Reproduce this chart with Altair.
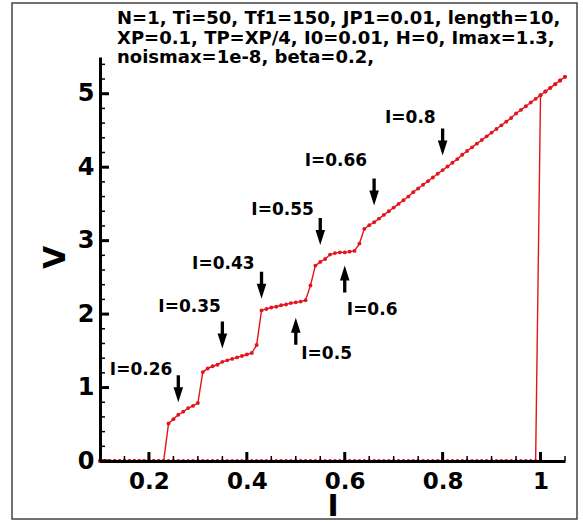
import altair as alt
import pandas as pd

# ---- sweep data: current I and voltage V ----
# forward sweep, I = 0.10 ... 1.05 in steps of 0.01
fwd_I = [round(0.10 + 0.01 * k, 2) for k in range(96)]
fwd_V = [
    0, 0, 0, 0, 0, 0, 0, 0, 0, 0, 0, 0, 0, 0,                    # 0.10-0.23
    0.51, 0.57, 0.63, 0.67, 0.72, 0.75, 0.79,                    # 0.24-0.30
    1.21, 1.26, 1.29, 1.31, 1.35, 1.37, 1.39, 1.41, 1.43, 1.45,  # 0.31-0.40
    1.47, 1.58,                                                  # 0.41-0.42
    2.05, 2.07, 2.09, 2.10, 2.12, 2.13, 2.15, 2.16, 2.17, 2.19,  # 0.43-0.52
    2.39, 2.66, 2.71, 2.75, 2.81, 2.83, 2.84, 2.84, 2.85, 2.86,  # 0.53-0.62
    2.96, 3.16, 3.21, 3.25, 3.30,                                # 0.63-0.67
    3.35, 3.40, 3.45, 3.50, 3.55, 3.60, 3.66, 3.71, 3.76, 3.81,  # 0.68-0.77
    3.86, 3.91, 3.96, 4.01, 4.06, 4.11, 4.17, 4.22, 4.27, 4.32,  # 0.78-0.87
    4.37, 4.42, 4.47, 4.52, 4.57, 4.62, 4.67, 4.73, 4.78, 4.83,  # 0.88-0.97
    4.88, 4.93, 4.98, 5.03, 5.08, 5.13, 5.18, 5.23,              # 0.98-1.05
]
# backward sweep, I = 1.05 ... 0.10
bwd_I = [round(1.05 - 0.01 * k, 2) for k in range(96)]
bwd_V = [5.23, 5.18, 5.13, 5.08, 5.03, 4.98] + [0.0] * 90

# ---- annotations ----
ann_text = ["I=0.26", "I=0.35", "I=0.43", "I=0.5", "I=0.55", "I=0.6", "I=0.66", "I=0.8"]
ann_I = [0.26, 0.35, 0.43, 0.50, 0.55, 0.60, 0.66, 0.80]
ann_tip_V = [0.80, 1.53, 2.21, 1.95, 2.94, 2.66, 3.48, 4.16]
ann_dir = ["down", "down", "down", "up", "down", "up", "down", "down"]
lab_I = [0.184, 0.283, 0.352, 0.563, 0.473, 0.656, 0.582, 0.734]
lab_V = [1.17, 2.03, 2.62, 1.39, 3.35, 1.99, 4.01, 4.60]

# ---- axis ticks ----
x_major = [0.2, 0.4, 0.6, 0.8, 1.0]
x_minor = [0.15, 0.25, 0.3, 0.35, 0.45, 0.5, 0.55, 0.65, 0.7, 0.75, 0.85, 0.9, 0.95, 1.05]
y_major = [0, 1, 2, 3, 4, 5]
y_minor = [0.2, 0.4, 0.6, 0.8, 1.2, 1.4, 1.6, 1.8, 2.2, 2.4, 2.6, 2.8,
           3.2, 3.4, 3.6, 3.8, 4.2, 4.4, 4.6, 4.8, 5.2, 5.4]

caption = [
    "N=1, Ti=50, Tf1=150, JP1=0.01, length=10,",
    "XP=0.1, TP=XP/4, I0=0.01, H=0, Imax=1.3,",
    "noismax=1e-8, beta=0.2,",
]

W, H = 465, 404
FONT = "DejaVu Sans"
RED = "#e3141c"

sweep = pd.DataFrame({
    "I": fwd_I + bwd_I,
    "V": fwd_V + bwd_V,
    "step": list(range(len(fwd_I) + len(bwd_I))),
})
ann = pd.DataFrame({"text": ann_text, "I": ann_I, "tip": ann_tip_V, "dir": ann_dir,
                    "lx": lab_I, "ly": lab_V})

xs = alt.Scale(domain=[0.1, 1.05], nice=False, zero=False)
ys = alt.Scale(domain=[0, 5.5], nice=False, zero=False)

x_axis = alt.Axis(values=x_major, format="~g", ticks=False, tickSize=0, grid=False,
                  domainColor="black", domainWidth=3, labelFont=FONT, labelFontSize=23,
                  labelFontWeight="bold", labelColor="black", labelPadding=9,
                  title="I", titleFont=FONT, titleFontSize=30, titleFontWeight="bold",
                  titleColor="black", titleBaseline="alphabetic", titleY=54, zindex=1)
y_axis = alt.Axis(values=y_major, format="d", ticks=False, tickSize=0, grid=False,
                  domainColor="black", domainWidth=3, labelFont=FONT, labelFontSize=24,
                  labelFontWeight="bold", labelColor="black", labelPadding=6,
                  title="V", titleFont=FONT, titleFontSize=30, titleFontWeight="bold",
                  titleColor="black", titleBaseline="alphabetic", titleX=-36, titleY=200,
                  zindex=1)

base = alt.Chart(sweep)
line = base.mark_line(color=RED, strokeWidth=1.4).encode(
    x=alt.X("I:Q", scale=xs, axis=x_axis),
    y=alt.Y("V:Q", scale=ys, axis=y_axis),
    order="step:Q",
)
dots = base.mark_circle(color=RED, size=15, opacity=1).encode(
    x=alt.X("I:Q", scale=xs), y=alt.Y("V:Q", scale=ys)
)

# inward tick marks
def xticks(vals, length, width):
    return alt.Chart(pd.DataFrame({"t": vals})).mark_rule(color="black", strokeWidth=width).encode(
        x=alt.X("t:Q", scale=xs), y=alt.value(H), y2=alt.value(H - length))

def yticks(vals, length, width):
    return alt.Chart(pd.DataFrame({"t": vals})).mark_rule(color="black", strokeWidth=width).encode(
        y=alt.Y("t:Q", scale=ys), x=alt.value(0), x2=alt.value(length))

# arrows: shaft + head drawn as one symbol whose tip sits on the data point
DOWN = "M-0.55,-9L0.55,-9L0.55,-5L1.6,-5L0,0L-1.6,-5L-0.55,-5Z"
UP = "M-0.55,9L0.55,9L0.55,5L1.6,5L0,0L-1.6,5L-0.55,5Z"
arrows = alt.Chart(ann).mark_point(filled=True, color="black", opacity=1, size=36, strokeWidth=0).encode(
    x=alt.X("I:Q", scale=xs), y=alt.Y("tip:Q", scale=ys),
    shape=alt.Shape("dir:N", scale=alt.Scale(domain=["down", "up"], range=[DOWN, UP]), legend=None),
)
labels = alt.Chart(ann).mark_text(font=FONT, fontSize=17, fontWeight="bold", color="black",
                                  align="center", baseline="alphabetic").encode(
    x=alt.X("lx:Q", scale=xs), y=alt.Y("ly:Q", scale=ys), text="text:N")

one = pd.DataFrame({"k": [0]})
title = alt.Chart(one).mark_text(font=FONT, fontSize=18, fontWeight="bold", color="black",
                                 align="left", baseline="alphabetic", lineHeight=19.5).encode(
    x=alt.value(17), y=alt.value(-33), text=alt.value(caption))
frame = alt.Chart(one).mark_rect(filled=False, stroke="#444444", strokeWidth=1.5).encode(
    x=alt.value(-88), x2=alt.value(477), y=alt.value(-54), y2=alt.value(462))

chart = alt.layer(
    frame, line, dots,
    xticks(x_major, 9, 3), xticks(x_minor, 5, 1.5),
    yticks(y_major, 9, 3), yticks(y_minor, 5, 1.5),
    arrows, labels, title,
).properties(
    width=W, height=H,
    autosize=alt.AutoSizeParams(type="none"),
    padding={"left": 100, "top": 57, "right": 18, "bottom": 63},
    background="white",
).configure_view(stroke=None)

chart.save("out.html", embed_options={"renderer": "svg", "actions": False})
